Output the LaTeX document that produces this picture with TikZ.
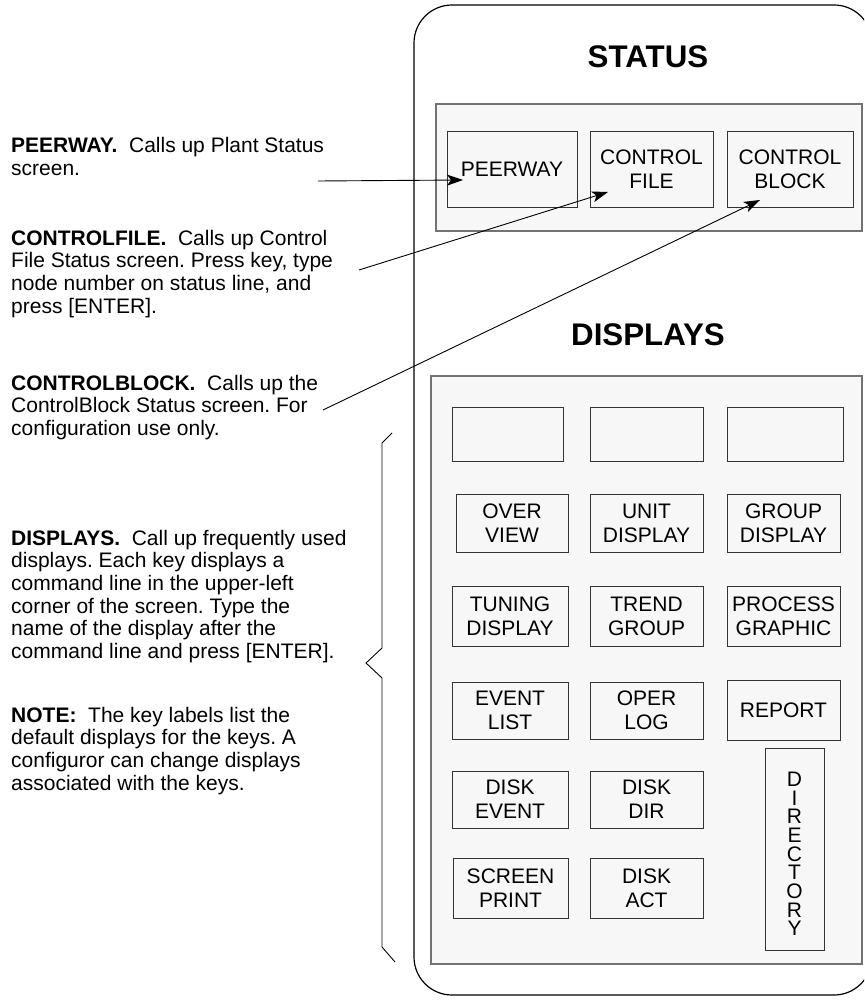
\documentclass[tikz,border=0pt]{standalone}
\usepackage{fontspec}
\setmainfont{Liberation Sans}
\usetikzlibrary{arrows.meta}
\frenchspacing
\begin{document}
\begin{tikzpicture}[x=1pt,y=-1pt,
  outerbox/.style={draw=black,line width=1.2pt,rounded corners=38pt},
  panel/.style={draw=black!55,fill=black!3,line width=1.1pt,inner sep=0pt},
  key/.style={draw=black!80,line width=0.9pt,inner sep=0pt,align=center,
     font=\fontsize{21}{24}\selectfont},
  title/.style={font=\fontsize{31.3}{34}\selectfont\bfseries,inner sep=0pt},
  para/.style={anchor=base west,inner sep=0pt},
  arr/.style={line width=0.9pt,-{Stealth[length=16pt,width=11pt,inset=4pt]}},
  bracel/.style={line width=0.9pt},
]
\useasboundingbox (0,0) rectangle (864,1000);
\clip (0,0) rectangle (864,1000);
\newcommand{\lpara}[1]{\parbox[t]{400pt}{\raggedright\frenchspacing\fontsize{21}{22.7}\selectfont #1}}

% outer keypad outline
\draw[outerbox] (414,5) rectangle (872,995);

% titles
\node[title] (stitle) at (648,57) {STATUS};
\node[title] (dtitle) at (648,335) {DISPLAYS};

% panels
\node[panel,minimum width=426pt,minimum height=127pt] (spanel) at (649,167.5) {};
\node[panel,minimum width=431pt,minimum height=588pt] (dpanel) at (646.5,670) {};

% status keys
\node[key,minimum width=130pt,minimum height=76pt] (peerway) at (512,169) {PEERWAY};
\node[key,minimum width=123pt,minimum height=76pt] (cfile) at (651.5,169) {CONTROL\\FILE};
\node[key,minimum width=126pt,minimum height=76pt] (cblock) at (790,169) {CONTROL\\BLOCK};

% display keys
\node[key,minimum width=111pt,minimum height=54pt] (b1) at (507.5,434) {};
\node[key,minimum width=113pt,minimum height=54pt] (b2) at (646.5,434) {};
\node[key,minimum width=116pt,minimum height=54pt] (b3) at (785,434) {};

\node[key,minimum width=112pt,minimum height=58pt] (overview) at (512,523) {OVER\\VIEW};
\node[key,minimum width=113pt,minimum height=58pt] (unit) at (646.5,523) {UNIT\\DISPLAY};
\node[key,minimum width=113pt,minimum height=58pt] (group) at (783.5,523) {GROUP\\DISPLAY};

\node[key,minimum width=116pt,minimum height=60pt] (tuning) at (510,616) {TUNING\\DISPLAY};
\node[key,minimum width=113pt,minimum height=60pt] (trend) at (646.5,616) {TREND\\GROUP};
\node[key,minimum width=113pt,minimum height=60pt] (process) at (783.5,616) {PROCESS\\GRAPHIC};

\node[key,minimum width=116pt,minimum height=57pt] (event) at (510,710.5) {EVENT\\LIST};
\node[key,minimum width=113pt,minimum height=57pt] (oper) at (646.5,710.5) {OPER\\LOG};
\node[key,minimum width=113pt,minimum height=60pt] (report) at (783.5,710) {REPORT};

\node[key,minimum width=116pt,minimum height=57pt] (diskevent) at (510,799.5) {DISK\\EVENT};
\node[key,minimum width=113pt,minimum height=57pt] (diskdir) at (646.5,799.5) {DISK\\DIR};

\node[key,minimum width=115pt,minimum height=60pt] (screen) at (510.5,888) {SCREEN\\PRINT};
\node[key,minimum width=113pt,minimum height=60pt] (diskact) at (646.5,888) {DISK\\ACT};

\node[key,minimum width=59pt,minimum height=202pt] (directory) at (794.5,849) {};
\node[inner sep=0pt,align=center,font=\fontsize{21}{18.67}\selectfont] (dirtext) at (794.5,854)
  {D\\I\\R\\E\\C\\T\\O\\R\\Y};

% left descriptions
\node[para] (t1) at (11,153) {\lpara{\textbf{PEERWAY.}\ \ Calls up Plant Status\\screen.}};
\node[para] (t2) at (11,245) {\lpara{\textbf{CONTROLFILE.}\ \ Calls up Control\\File Status screen. Press key, type\\node number on status line, and\\press [ENTER].}};
\node[para] (t3) at (11,390) {\lpara{\textbf{CONTROLBLOCK.}\ \ Calls up the\\ControlBlock Status screen. For\\configuration use only.}};
\node[para] (t4) at (11,545) {\lpara{\textbf{DISPLAYS.}\ \ Call up frequently used\\displays. Each key displays a\\command line in the upper-left\\corner of the screen. Type the\\name of the display after the\\command line and press [ENTER].}};
\node[para] (t5) at (11,722) {\lpara{\textbf{NOTE:}\ \ The key labels list the\\default displays for the keys. A\\configuror can change displays\\associated with the keys.}};

% arrows
\coordinate (pw0) at (318,181); \coordinate (pw1) at (463,180);
\coordinate (cf0) at (359,270); \coordinate (cf1) at (608,192);
\coordinate (cb0) at (323,410); \coordinate (cb1) at (760,200);
\draw[arr] (pw0) -- (pw1);
\draw[arr] (cf0) -- (cf1);
\draw[arr] (cb0) -- (cb1);

% brace
\coordinate (br0) at (392,433); \coordinate (br1) at (382,443);
\coordinate (br2) at (382,648); \coordinate (br3) at (366,663);
\coordinate (br4) at (382,678); \coordinate (br5) at (382,947);
\coordinate (br6) at (395,962);
\draw[bracel] (br0) -- (br1) -- (br2) -- (br3) -- (br4) -- (br5) -- (br6);
\end{tikzpicture}
\end{document}
